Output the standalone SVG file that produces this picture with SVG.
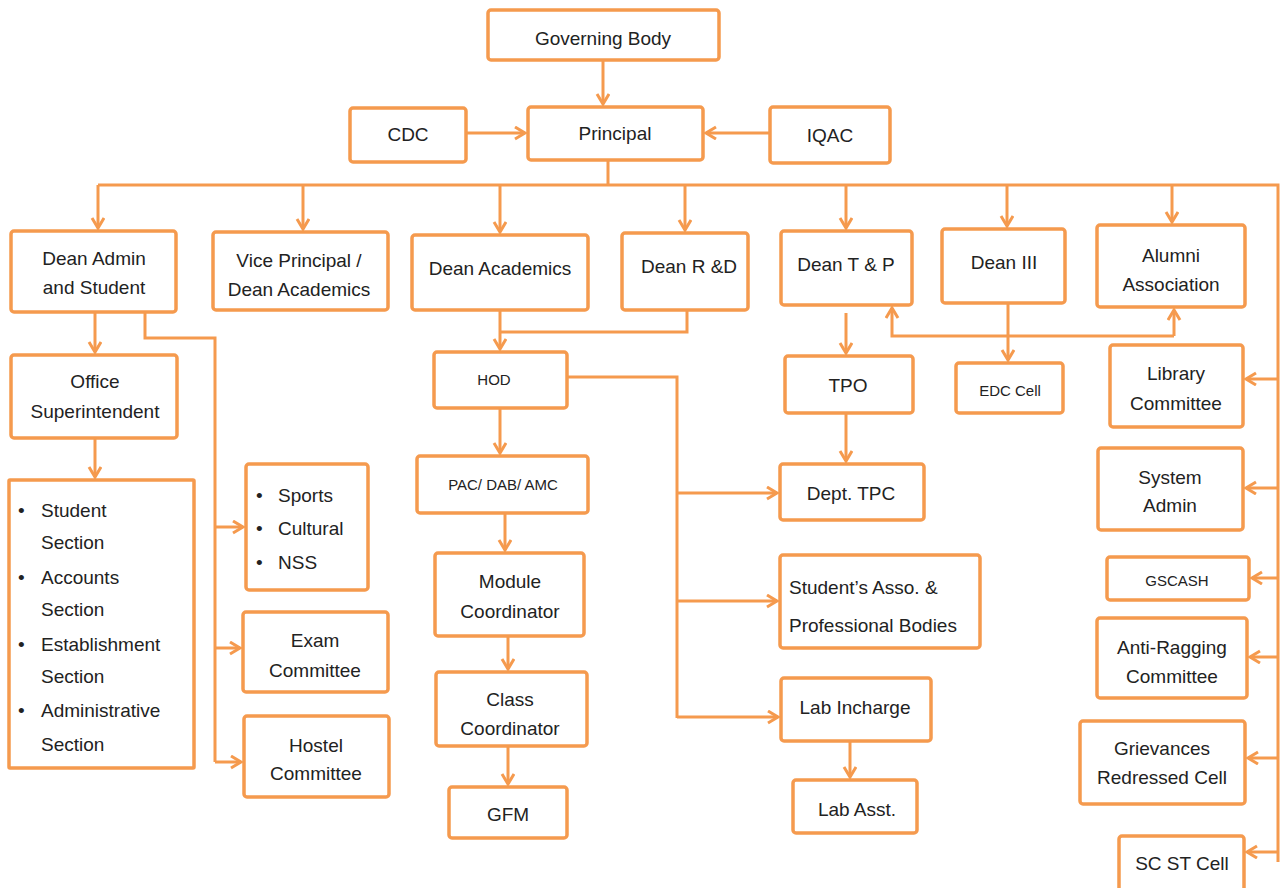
<svg xmlns="http://www.w3.org/2000/svg" width="1281" height="888" viewBox="0 0 1281 888">
<defs>
<marker id="ah" markerUnits="userSpaceOnUse" markerWidth="16" markerHeight="16" refX="11" refY="7" orient="auto">
<path d="M1,1 L11,7 L1,13" fill="none" stroke="#F59A4E" stroke-width="3"/>
</marker>
<style>
.b{fill:#fff;stroke:#F59A4E;stroke-width:3.5}
.c{fill:none;stroke:#F59A4E;stroke-width:3}
text{font-family:"Liberation Sans",Arial,sans-serif;font-size:19px;fill:#222;text-anchor:middle}
.s{font-size:15px}
.l{text-anchor:start}
</style>
</defs>
<rect width="1281" height="888" fill="#fff"/>
<g id="connectors">
<path class="c" d="M603,60 V104" marker-end="url(#ah)"/>
<path class="c" d="M466,133 H525" marker-end="url(#ah)"/>
<path class="c" d="M770,133 H706" marker-end="url(#ah)"/>
<path class="c" d="M608,160 V185 M98,185 H1278 V862"/>
<path class="c" d="M98,185 V228" marker-end="url(#ah)"/>
<path class="c" d="M303,185 V229" marker-end="url(#ah)"/>
<path class="c" d="M500,185 V232" marker-end="url(#ah)"/>
<path class="c" d="M685,185 V230" marker-end="url(#ah)"/>
<path class="c" d="M846,185 V228" marker-end="url(#ah)"/>
<path class="c" d="M1007,185 V226" marker-end="url(#ah)"/>
<path class="c" d="M1172,185 V222" marker-end="url(#ah)"/>
<path class="c" d="M95,312 V352" marker-end="url(#ah)"/>
<path class="c" d="M145,312 V338 H215 V762"/>
<path class="c" d="M215,527 H243" marker-end="url(#ah)"/>
<path class="c" d="M215,648 H240" marker-end="url(#ah)"/>
<path class="c" d="M215,762 H241" marker-end="url(#ah)"/>
<path class="c" d="M95,438 V477" marker-end="url(#ah)"/>
<path class="c" d="M500,310 V349" marker-end="url(#ah)"/>
<path class="c" d="M687,310 V332 H500"/>
<path class="c" d="M500,408 V453" marker-end="url(#ah)"/>
<path class="c" d="M567,377 H677 V718"/>
<path class="c" d="M677,493 H777" marker-end="url(#ah)"/>
<path class="c" d="M677,601 H777" marker-end="url(#ah)"/>
<path class="c" d="M677,717 H778" marker-end="url(#ah)"/>
<path class="c" d="M505,513 V550" marker-end="url(#ah)"/>
<path class="c" d="M508,636 V669" marker-end="url(#ah)"/>
<path class="c" d="M508,746 V784" marker-end="url(#ah)"/>
<path class="c" d="M850,741 V777" marker-end="url(#ah)"/>
<path class="c" d="M846,313 V353" marker-end="url(#ah)"/>
<path class="c" d="M846,413 V461" marker-end="url(#ah)"/>
<path class="c" d="M1008,303 V360" marker-end="url(#ah)"/>
<path class="c" d="M1174,336 H892 V308" marker-end="url(#ah)"/>
<path class="c" d="M1174,336 V310" marker-end="url(#ah)"/>
<path class="c" d="M1278,379 H1246" marker-end="url(#ah)"/>
<path class="c" d="M1278,488 H1246" marker-end="url(#ah)"/>
<path class="c" d="M1278,578 H1252" marker-end="url(#ah)"/>
<path class="c" d="M1278,657 H1250" marker-end="url(#ah)"/>
<path class="c" d="M1278,758 H1248" marker-end="url(#ah)"/>
<path class="c" d="M1278,852 H1247" marker-end="url(#ah)"/>
</g>
<g id="governing-body"><rect class="b" x="488" y="10" width="231" height="50" rx="3"/><text x="603" y="45">Governing Body</text></g>
<g id="principal"><rect class="b" x="528" y="107" width="175" height="53" rx="3"/><text x="615" y="140">Principal</text></g>
<g id="cdc"><rect class="b" x="350" y="108" width="116" height="54" rx="3"/><text x="408" y="141">CDC</text></g>
<g id="iqac"><rect class="b" x="770" y="107" width="120" height="56" rx="3"/><text x="830" y="142">IQAC</text></g>
<g id="dean-admin"><rect class="b" x="11" y="231" width="165" height="81" rx="3"/><text x="94" y="265">Dean Admin</text><text x="94" y="294">and Student</text></g>
<g id="vice-principal"><rect class="b" x="213" y="232" width="175" height="78" rx="3"/><text x="299" y="267">Vice Principal /</text><text x="299" y="296">Dean Academics</text></g>
<g id="dean-academics"><rect class="b" x="412" y="235" width="176" height="75" rx="3"/><text x="500" y="275">Dean Academics</text></g>
<g id="dean-rd"><rect class="b" x="622" y="233" width="126" height="77" rx="3"/><text x="689" y="273">Dean R &amp;D</text></g>
<g id="dean-tp"><rect class="b" x="781" y="231" width="131" height="74" rx="3"/><text x="846" y="271">Dean T &amp; P</text></g>
<g id="dean-iii"><rect class="b" x="942" y="229" width="123" height="74" rx="3"/><text x="1004" y="269">Dean III</text></g>
<g id="alumni"><rect class="b" x="1097" y="225" width="148" height="82" rx="3"/><text x="1171" y="262">Alumni</text><text x="1171" y="291">Association</text></g>
<g id="office-superintendent"><rect class="b" x="11" y="355" width="166" height="83" rx="3"/><text x="95" y="388">Office</text><text x="95" y="418">Superintendent</text></g>
<g id="sections"><rect class="b" x="9" y="480" width="185" height="288" rx="1"/>
<text class="l" x="18" y="517">•</text><text class="l" x="41" y="517">Student</text><text class="l" x="41" y="549">Section</text>
<text class="l" x="18" y="584">•</text><text class="l" x="41" y="584">Accounts</text><text class="l" x="41" y="616">Section</text>
<text class="l" x="18" y="651">•</text><text class="l" x="41" y="651">Establishment</text><text class="l" x="41" y="683">Section</text>
<text class="l" x="18" y="717">•</text><text class="l" x="41" y="717">Administrative</text><text class="l" x="41" y="751">Section</text></g>
<g id="sports"><rect class="b" x="246" y="464" width="122" height="126" rx="3"/>
<text class="l" x="256" y="502">•</text><text class="l" x="278" y="502">Sports</text>
<text class="l" x="256" y="535">•</text><text class="l" x="278" y="535">Cultural</text>
<text class="l" x="256" y="569">•</text><text class="l" x="278" y="569">NSS</text></g>
<g id="exam-committee"><rect class="b" x="243" y="612" width="145" height="80" rx="3"/><text x="315" y="647">Exam</text><text x="315" y="677">Committee</text></g>
<g id="hostel-committee"><rect class="b" x="244" y="716" width="145" height="81" rx="3"/><text x="316" y="752">Hostel</text><text x="316" y="780">Committee</text></g>
<g id="hod"><rect class="b" x="434" y="352" width="133" height="56" rx="3"/><text class="s" x="494" y="385">HOD</text></g>
<g id="pac"><rect class="b" x="417" y="456" width="171" height="57" rx="3"/><text class="s" x="503" y="490">PAC/ DAB/ AMC</text></g>
<g id="module-coordinator"><rect class="b" x="435" y="553" width="149" height="83" rx="3"/><text x="510" y="588">Module</text><text x="510" y="618">Coordinator</text></g>
<g id="class-coordinator"><rect class="b" x="436" y="672" width="151" height="74" rx="3"/><text x="510" y="706">Class</text><text x="510" y="735">Coordinator</text></g>
<g id="gfm"><rect class="b" x="449" y="787" width="118" height="51" rx="3"/><text x="508" y="821">GFM</text></g>
<g id="tpo"><rect class="b" x="785" y="356" width="128" height="57" rx="3"/><text x="848" y="392">TPO</text></g>
<g id="edc-cell"><rect class="b" x="956" y="363" width="107" height="50" rx="3"/><text class="s" x="1010" y="396">EDC Cell</text></g>
<g id="dept-tpc"><rect class="b" x="780" y="464" width="144" height="56" rx="3"/><text x="851" y="500">Dept. TPC</text></g>
<g id="students-asso"><rect class="b" x="780" y="555" width="200" height="93" rx="3"/><text class="l" x="789" y="594">Student’s Asso. &amp;</text><text class="l" x="789" y="632">Professional Bodies</text></g>
<g id="lab-incharge"><rect class="b" x="781" y="678" width="150" height="63" rx="3"/><text x="855" y="714">Lab Incharge</text></g>
<g id="lab-asst"><rect class="b" x="793" y="780" width="124" height="53" rx="3"/><text x="857" y="816">Lab Asst.</text></g>
<g id="library-committee"><rect class="b" x="1110" y="345" width="133" height="82" rx="3"/><text x="1176" y="380">Library</text><text x="1176" y="410">Committee</text></g>
<g id="system-admin"><rect class="b" x="1098" y="448" width="145" height="82" rx="3"/><text x="1170" y="484">System</text><text x="1170" y="512">Admin</text></g>
<g id="gscash"><rect class="b" x="1107" y="557" width="142" height="43" rx="3"/><text class="s" x="1177" y="586">GSCASH</text></g>
<g id="anti-ragging"><rect class="b" x="1097" y="618" width="150" height="80" rx="3"/><text x="1172" y="654">Anti-Ragging</text><text x="1172" y="683">Committee</text></g>
<g id="grievances"><rect class="b" x="1080" y="721" width="165" height="83" rx="3"/><text x="1162" y="755">Grievances</text><text x="1162" y="784">Redressed Cell</text></g>
<g id="sc-st-cell"><rect class="b" x="1119" y="836" width="125" height="60" rx="3"/><text x="1182" y="870">SC ST Cell</text></g>
</svg>
